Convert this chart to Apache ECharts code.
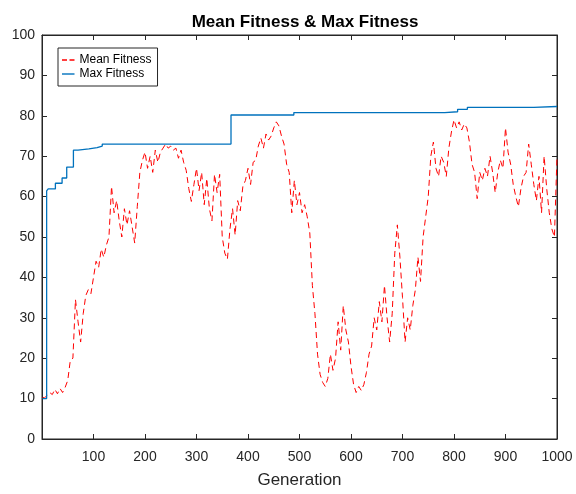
<!DOCTYPE html>
<html>
<head>
<meta charset="utf-8">
<script src="https://cdn.jsdelivr.net/npm/echarts@6/dist/echarts.min.js"></script>
<style>html,body{margin:0;padding:0;background:#fff}#c{width:576px;height:494px}</style>
</head>
<body>
<div id="c"></div>
<script>
const titleText = 'Mean Fitness & Max Fitness';
const xName = 'Generation';
const seriesNames = ['Mean Fitness', 'Max Fitness'];
const xTicks = [100, 200, 300, 400, 500, 600, 700, 800, 900, 1000];
const yTicks = [0, 10, 20, 30, 40, 50, 60, 70, 80, 90, 100];

const meanStep = 5;
const meanFirst = [1, 10.3];
const meanFitness = [
  10.2, 10.8, 11.5, 11.0, 12.3, 11.2, 12.5, 11.5, 12.8, 14.5,
  19.5, 20.0, 34.5, 29.0, 24.0, 31.0, 35.5, 37.0, 36.0, 40.0,
  44.0, 42.5, 47.0, 45.0, 48.0, 50.0, 62.5, 56.0, 59.0, 54.0,
  50.0, 57.0, 53.0, 56.5, 52.5, 48.5, 57.5, 66.0, 69.0, 71.0,
  67.0, 70.0, 66.0, 71.5, 68.5, 71.0, 72.0, 73.0, 72.0, 72.5,
  71.5, 72.0, 69.5, 71.5, 68.5, 66.5, 62.0, 58.8, 63.0, 67.0,
  61.5, 66.0, 58.0, 64.5, 57.0, 54.0, 65.5, 61.0, 65.5, 50.0,
  46.0, 44.5, 52.0, 57.0, 50.5, 59.0, 56.5, 62.5, 64.0, 67.0,
  63.0, 68.5, 69.0, 72.5, 74.5, 72.0, 75.5, 74.0, 75.0, 77.0,
  78.5, 77.5, 75.0, 73.0, 68.0, 66.0, 56.0, 64.0, 58.0, 61.0,
  56.0, 58.0, 55.0, 51.0, 38.0, 31.0, 21.0, 16.0, 14.0, 13.0,
  15.0, 21.0, 17.0, 20.0, 29.0, 22.0, 33.0, 27.0, 24.0, 18.0,
  13.5, 11.5, 13.0, 12.0, 13.5, 16.5, 21.0, 23.0, 30.0, 27.0,
  34.0, 29.0, 38.0, 30.0, 24.0, 31.0, 46.0, 53.0, 45.0, 35.0,
  24.0, 30.0, 27.0, 33.0, 37.0, 45.0, 39.0, 50.0, 55.0, 60.0,
  70.0, 73.5, 67.0, 65.0, 70.0, 68.5, 65.0, 72.0, 76.0, 79.0,
  77.0, 78.5, 76.5, 78.0, 77.0, 73.5, 68.0, 66.0, 59.5, 66.0,
  64.0, 67.0, 65.0, 70.0, 66.0, 61.0, 66.0, 69.0, 67.0, 77.0,
  71.0, 68.0, 63.0, 60.0, 57.5, 62.0, 65.0, 66.0, 73.0, 68.0,
  63.0, 59.0, 65.0, 56.0, 70.0, 62.0, 56.0, 52.0, 50.0, 70.0
];

// Max fitness: generation where a new level starts, and its value
const maxGen = [1, 9, 12, 26, 39, 48, 61, 70, 91, 107, 117, 367, 489, 782, 807, 826, 955, 1000];
const maxVal = [10.0, 61.4, 61.9, 63.3, 64.6, 67.3, 71.5, 71.8, 72.1, 72.5, 73.0, 80.2, 80.8, 81.0, 81.6, 82.1, 82.3, 82.3];

const meanData = [meanFirst].concat(meanFitness.map((v, i) => [(i + 1) * meanStep, v]));
const maxData = maxGen.map((g, i) => [g, maxVal[i]]);

const ink = '#262626';
const font = 'Liberation Sans, Arial, sans-serif';
const tick = {show: true, inside: true, length: 5, lineStyle: {color: ink, width: 1}};
const chart = echarts.init(document.getElementById('c'), null, {renderer: 'canvas'});
chart.setOption({
  animation: false,
  backgroundColor: '#fff',
  title: {
    text: titleText, left: 300, textAlign: 'center', top: 9,
    textStyle: {fontFamily: font, fontSize: 17, fontWeight: 'bold', color: '#000'}
  },
  grid: {left: 42, right: 19, top: 35, bottom: 53, show: true, borderColor: ink, borderWidth: 1, backgroundColor: 'transparent'},
  legend: {
    data: [
      {name: seriesNames[0], icon: 'path://M0,0H5V1.4H0Z M7.5,0H12.5V1.4H7.5Z'},
      {name: seriesNames[1], icon: 'rect'}
    ],
    orient: 'vertical', left: 58, top: 48,
    borderColor: ink, borderWidth: 1, backgroundColor: '#fff',
    padding: [5, 6, 5, 4], itemGap: 0, itemWidth: 12.5, itemHeight: 1.4,
    selectedMode: false,
    textStyle: {fontFamily: font, fontSize: 12, color: '#000', lineHeight: 14}
  },
  xAxis: [{
    type: 'value', min: 0, max: 1000, interval: 100, position: 'bottom',
    name: xName, nameLocation: 'middle', nameGap: 33,
    nameTextStyle: {fontFamily: font, fontSize: 17, color: ink},
    axisLine: {show: true, onZero: false, lineStyle: {color: ink, width: 1}},
    axisTick: tick,
    splitLine: {show: false},
    axisLabel: {
      margin: 11, fontFamily: font, fontSize: 14, color: ink,
      formatter: v => (xTicks.indexOf(v) >= 0 ? String(v) : '')
    }
  }, {
    type: 'value', min: 0, max: 1000, interval: 100, position: 'top',
    axisLine: {show: true, onZero: false, lineStyle: {color: ink, width: 1}},
    axisTick: tick,
    axisLabel: {show: false}, splitLine: {show: false}
  }],
  yAxis: [{
    type: 'value', min: 0, max: 100, interval: 10, position: 'left',
    axisLine: {show: true, onZero: false, lineStyle: {color: ink, width: 1}},
    axisTick: tick,
    splitLine: {show: false},
    axisLabel: {
      margin: 7, fontFamily: font, fontSize: 14, color: ink,
      formatter: v => (yTicks.indexOf(v) >= 0 ? String(v) : '')
    }
  }, {
    type: 'value', min: 0, max: 100, interval: 10, position: 'right',
    axisLine: {show: true, onZero: false, lineStyle: {color: ink, width: 1}},
    axisTick: tick,
    axisLabel: {show: false}, splitLine: {show: false}
  }],
  series: [{
    name: seriesNames[0], type: 'line', data: meanData, symbol: 'none', showSymbol: false,
    xAxisIndex: 0, yAxisIndex: 0, z: 2,
    lineStyle: {color: '#ff0000', width: 1, type: [6, 4]},
    itemStyle: {color: '#ff0000'}
  }, {
    name: seriesNames[1], type: 'line', step: 'end', data: maxData, symbol: 'none', showSymbol: false,
    xAxisIndex: 0, yAxisIndex: 0, z: 3,
    lineStyle: {color: '#0072BD', width: 1.3},
    itemStyle: {color: '#0072BD'}
  }]
});
</script>
</body>
</html>
